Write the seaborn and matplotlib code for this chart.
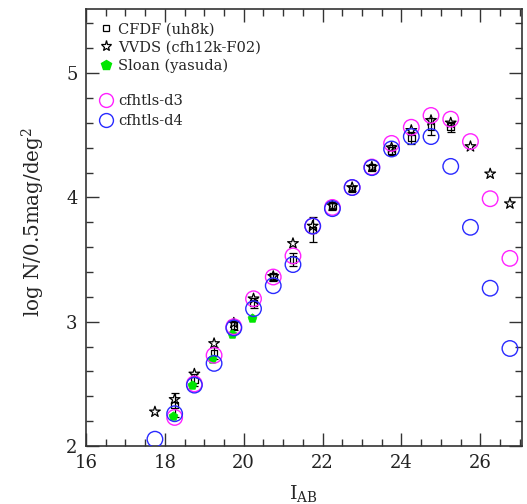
import numpy as np
import matplotlib
matplotlib.use("Agg")
import matplotlib.pyplot as plt
from matplotlib.lines import Line2D
from matplotlib.ticker import MultipleLocator
import seaborn as sns

# Galaxy number counts, I-band (AB), per 0.5 mag bin
cfdf_mag = [18.25, 18.75, 19.25, 19.75, 20.25, 20.75, 21.25, 21.75,
            22.25, 22.75, 23.25, 23.75, 24.25, 24.75, 25.25]
cfdf_logn = [2.33, 2.53, 2.75, 2.97, 3.15, 3.36, 3.50, 3.74,
             3.93, 4.07, 4.24, 4.38, 4.48, 4.57, 4.57]
cfdf_err = [0.10, 0.05, 0.05, 0.04, 0.04, 0.03, 0.05, 0.10,
            0.03, 0.02, 0.02, 0.04, 0.05, 0.07, 0.04]

vvds_mag = [17.75, 18.25, 18.75, 19.25, 19.75, 20.25, 20.75, 21.25, 21.75, 22.25,
            22.75, 23.25, 23.75, 24.25, 24.75, 25.25, 25.75, 26.25, 26.75]
vvds_logn = [2.275, 2.375, 2.58, 2.825, 2.99, 3.185, 3.365, 3.63, 3.77, 3.935,
             4.08, 4.245, 4.40, 4.54, 4.62, 4.60, 4.41, 4.19, 3.95]

sloan_mag = [18.2, 18.7, 19.2, 19.7, 20.2]
sloan_logn = [2.24, 2.49, 2.70, 2.905, 3.03]

d3_mag = [18.25, 18.75, 19.25, 19.75, 20.25, 20.75, 21.25, 21.75, 22.25,
          22.75, 23.25, 23.75, 24.25, 24.75, 25.25, 25.75, 26.25, 26.75]
d3_logn = [2.23, 2.50, 2.73, 2.96, 3.185, 3.36, 3.53, 3.77, 3.92,
           4.08, 4.245, 4.435, 4.565, 4.66, 4.63, 4.45, 3.99, 3.51]

d4_mag = [17.75, 18.25, 18.75, 19.25, 19.75, 20.25, 20.75, 21.25, 21.75, 22.25,
          22.75, 23.25, 23.75, 24.25, 24.75, 25.25, 25.75, 26.25, 26.75]
d4_logn = [2.055, 2.26, 2.49, 2.665, 2.95, 3.105, 3.29, 3.46, 3.77, 3.91,
           4.08, 4.24, 4.39, 4.49, 4.49, 4.25, 3.76, 3.27, 2.785]

MAGENTA = "#ff22ff"
BLUE = "#2a2aff"
GREEN = "#00e600"

sns.set_theme(style="ticks")
plt.rcParams["font.family"] = ["DejaVu Serif"]
plt.rcParams["mathtext.fontset"] = "dejavuserif"

fig = plt.figure(figsize=(5.27, 5.04), dpi=100)
ax = fig.add_axes([0.163, 0.115, 0.827, 0.868])

ax.errorbar(cfdf_mag, cfdf_logn, yerr=cfdf_err, fmt="none", ecolor="black",
            elinewidth=0.9, capsize=3, capthick=0.9, zorder=2)
sns.scatterplot(x=cfdf_mag, y=cfdf_logn, marker="s", s=22, facecolor="none",
                edgecolor="black", linewidth=0.9, ax=ax, zorder=3)
sns.scatterplot(x=vvds_mag, y=vvds_logn, marker="*", s=65, facecolor="none",
                edgecolor="black", linewidth=0.9, ax=ax, zorder=4)
sns.scatterplot(x=sloan_mag, y=sloan_logn, marker="p", s=45, color=GREEN,
                edgecolor=GREEN, linewidth=0.5, ax=ax, zorder=3)
sns.scatterplot(x=d3_mag, y=d3_logn, marker="o", s=125, facecolor="none",
                edgecolor=MAGENTA, linewidth=1.0, ax=ax, zorder=5)
sns.scatterplot(x=d4_mag, y=d4_logn, marker="o", s=125, facecolor="none",
                edgecolor=BLUE, linewidth=1.0, ax=ax, zorder=5)

ax.set_xlim(16, 27.05)
ax.set_ylim(2, 5.52)
ax.xaxis.set_major_locator(MultipleLocator(2))
ax.xaxis.set_minor_locator(MultipleLocator(0.5))
ax.yaxis.set_major_locator(MultipleLocator(1))
ax.yaxis.set_minor_locator(MultipleLocator(0.2))
ax.tick_params(which="both", direction="in", top=True, right=True,
               color="#333333", width=1.0, labelsize=13, colors="#222222")
ax.tick_params(which="major", length=9.5, pad=6)
ax.tick_params(which="minor", length=5)
for side in ax.spines.values():
    side.set_linewidth(1.2)
    side.set_color("#333333")

ax.set_xlabel(r"$\mathrm{I_{AB}}$", fontsize=14, labelpad=8)
ax.set_ylabel(r"log N/0.5mag/deg$^2$", fontsize=14.3)
ax.yaxis.set_label_coords(-0.09, 0.512)

# Comparison surveys and the two CFHTLS deep fields, as two legend blocks
survey_handles = [
    Line2D([], [], ls="none", marker="s", ms=5, mfc="none", mec="black", mew=0.9),
    Line2D([], [], ls="none", marker="*", ms=8, mfc="none", mec="black", mew=0.9),
    Line2D([], [], ls="none", marker="p", ms=7, mfc=GREEN, mec=GREEN),
]
survey_labels = ["CFDF (uh8k)", "VVDS (cfh12k-F02)", "Sloan (yasuda)"]
field_handles = [
    Line2D([], [], ls="none", marker="o", ms=10, mfc="none", mec=MAGENTA, mew=1.0),
    Line2D([], [], ls="none", marker="o", ms=10, mfc="none", mec=BLUE, mew=1.0),
]
field_labels = ["cfhtls-d3", "cfhtls-d4"]

legend_style = dict(loc="upper left", frameon=False, fontsize=10.5,
                    handlelength=1.0, handletextpad=0.3,
                    borderaxespad=0, borderpad=0)
leg1 = ax.legend(survey_handles, survey_labels, labelspacing=0.27,
                 bbox_to_anchor=(0.03, 0.968), **legend_style)
ax.add_artist(leg1)
ax.legend(field_handles, field_labels, labelspacing=0.38,
          bbox_to_anchor=(0.03, 0.804), **legend_style)

fig.savefig("out.png", dpi=100)
